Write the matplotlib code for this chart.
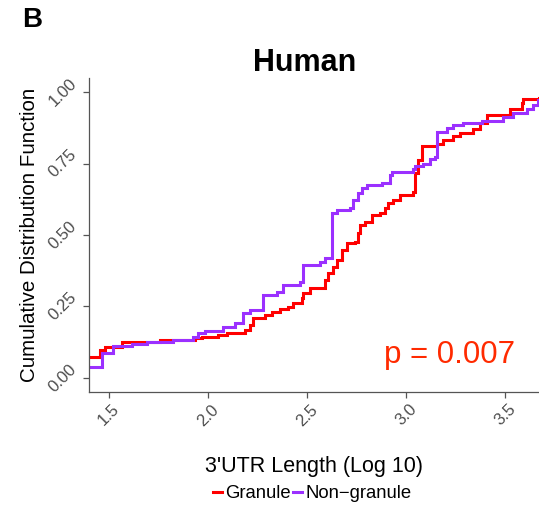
import matplotlib
matplotlib.use("Agg")
import matplotlib.pyplot as plt
from matplotlib.lines import Line2D

plt.rcParams['font.family'] = ['Liberation Sans', 'DejaVu Sans']

# ECDF step points (x = log10 3'UTR length, y = cumulative fraction after the step)
granule_x = [1.40, 1.455, 1.480, 1.566, 1.758, 1.934, 1.970, 2.051, 2.096, 2.187, 2.212, 2.227,
             2.288, 2.323, 2.364, 2.404, 2.429, 2.475, 2.480, 2.515, 2.591, 2.606, 2.631, 2.652,
             2.677, 2.702, 2.742, 2.758, 2.768, 2.793, 2.828, 2.869, 2.894, 2.909, 2.934, 2.970,
             3.035, 3.045, 3.061, 3.081, 3.157, 3.187, 3.237, 3.273, 3.338, 3.374, 3.409, 3.510,
             3.525, 3.586, 3.591, 3.672]
granule_y = [0.074, 0.098, 0.108, 0.126, 0.133, 0.140, 0.143, 0.150, 0.157, 0.168, 0.185, 0.210,
             0.220, 0.231, 0.241, 0.248, 0.262, 0.280, 0.297, 0.315, 0.343, 0.367, 0.388, 0.413,
             0.448, 0.472, 0.476, 0.507, 0.535, 0.545, 0.570, 0.577, 0.594, 0.612, 0.622, 0.640,
             0.650, 0.717, 0.762, 0.811, 0.818, 0.832, 0.846, 0.857, 0.871, 0.892, 0.920, 0.920,
             0.941, 0.962, 0.976, 0.979]

nongranule_x = [1.40, 1.463, 1.520, 1.616, 1.692, 1.823, 1.924, 1.949, 1.985, 2.076, 2.136, 2.177,
                2.212, 2.278, 2.348, 2.379, 2.465, 2.480, 2.566, 2.591, 2.626, 2.652, 2.717, 2.732,
                2.758, 2.778, 2.803, 2.879, 2.919, 2.929, 3.035, 3.045, 3.086, 3.121, 3.146, 3.157,
                3.207, 3.237, 3.288, 3.384, 3.490, 3.540, 3.611, 3.641, 3.667, 3.672]
nongranule_y = [0.040, 0.088, 0.112, 0.119, 0.126, 0.133, 0.143, 0.157, 0.164, 0.178, 0.192, 0.227,
                0.238, 0.290, 0.301, 0.325, 0.336, 0.395, 0.406, 0.420, 0.577, 0.587, 0.594, 0.622,
                0.647, 0.664, 0.675, 0.682, 0.710, 0.720, 0.731, 0.741, 0.748, 0.766, 0.773, 0.860,
                0.874, 0.885, 0.892, 0.899, 0.913, 0.927, 0.941, 0.955, 0.972, 0.972]

x_ticks = [1.5, 2.0, 2.5, 3.0, 3.5]
x_tick_labels = ["1.5", "2.0", "2.5", "3.0", "3.5"]
y_ticks = [0.0, 0.25, 0.5, 0.75, 1.0]
y_tick_labels = ["0.00", "0.25", "0.50", "0.75", "1.00"]

RED = "#ff0000"
PURPLE = "#9b30ff"
GRAY = "#4d4d4d"

fig = plt.figure(figsize=(5.39, 5.08), dpi=100)
ax = fig.add_axes([89/539, 1-392/508, (539-89)/539, (392-78)/508])

ax.plot(granule_x, granule_y, drawstyle='steps-post', color=RED, lw=2.2, solid_joinstyle='miter')
ax.plot(nongranule_x, nongranule_y, drawstyle='steps-post', color=PURPLE, lw=2.2, solid_joinstyle='miter')

ax.set_xlim(1.399, 3.672)
ax.set_ylim(-0.049, 1.049)
for s in ['top', 'right']:
    ax.spines[s].set_visible(False)
for s in ['left', 'bottom']:
    ax.spines[s].set_color('#555555')
    ax.spines[s].set_linewidth(0.9)

ax.set_xticks(x_ticks)
ax.set_xticklabels(x_tick_labels, rotation=45, ha='center', va='top')
ax.set_yticks(y_ticks)
ax.set_yticklabels(y_tick_labels, rotation=45, ha='right', va='center')
ax.tick_params(axis='both', colors='#555555', labelcolor=GRAY, labelsize=12, length=4, width=0.9)
ax.tick_params(axis='x', pad=3)
ax.tick_params(axis='y', pad=3)

ax.set_xlabel("3'UTR Length (Log 10)", fontsize=15.5, color='black', labelpad=20)
ax.set_ylabel("Cumulative Distribution Function", fontsize=14.8, color='black', labelpad=5)

fig.text(305/539, 1-63/508, "Human", fontsize=22, fontweight='bold', ha='center', va='center')
fig.text(22/539, 1-20/508, "B", fontsize=20, fontweight='bold', ha='left', va='center')

ax.text(3.22, 0.08, "p = 0.007", color="#ff2a00", fontsize=22.5, ha='center', va='center')

handles = [Line2D([0], [0], color=RED, lw=2.2), Line2D([0], [0], color=PURPLE, lw=2.2)]
fig.legend(handles, ["Granule", "Non\u2212granule"], loc='center', bbox_to_anchor=(312/539, 1-494/508),
           ncol=2, frameon=False, fontsize=13.3, handlelength=0.5, handletextpad=0.15,
           columnspacing=0.15, borderpad=0)

fig.savefig("out.png", dpi=100)
